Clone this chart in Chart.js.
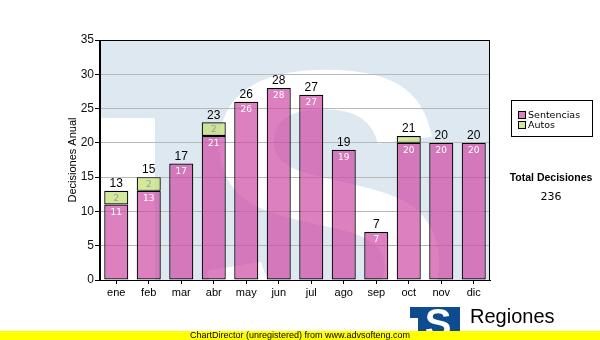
<!DOCTYPE html>
<html>
<head>
<meta charset="utf-8">
<script src="https://cdn.jsdelivr.net/npm/chart.js@4"></script>
<style>
  html, body { margin: 0; padding: 0; background: #fff; }
  canvas { display: block; }
</style>
</head>
<body>
<canvas id="decisiones" width="600" height="340"></canvas>
<script>
// datos mensuales
const meses = ['ene', 'feb', 'mar', 'abr', 'may', 'jun', 'jul', 'ago', 'sep', 'oct', 'nov', 'dic'];
const sentencias = [11, 13, 17, 21, 26, 28, 27, 19, 7, 20, 20, 20];
const autos = [2, 2, 0, 2, 0, 0, 0, 0, 0, 1, 0, 0];
const yMax = 35;
const yPaso = 5;

const colorSentencias = 'rgba(206, 74, 164, 0.7)';
const colorAutos = 'rgba(196, 224, 120, 0.75)';

const totales = meses.map((m, i) => sentencias[i] + autos[i]);
const totalDecisiones = totales.reduce((a, b) => a + b, 0);

// marca de agua del logo detras de las barras
const fondoLogo = {
  id: 'fondoLogo',
  beforeDraw(chart) {
    const ctx = chart.ctx;
    const { left, top, right, bottom } = chart.chartArea;
    ctx.save();
    ctx.beginPath();
    ctx.rect(left, top, right - left, bottom - top);
    ctx.clip();
    ctx.fillStyle = '#dee8f1';
    ctx.fillRect(left, top, right - left, bottom - top);
    ctx.fillStyle = '#fff';
    ctx.fillRect(left, top + 78, 55, bottom - top);
    ctx.font = 'bold 387px "Liberation Sans"';
    ctx.textAlign = 'center';
    ctx.textBaseline = 'alphabetic';
    ctx.fillText('S', 325, 340);
    ctx.restore();
  }
};

// valores dentro y encima de cada barra, borde del area
const etiquetas = {
  id: 'etiquetas',
  afterDatasetsDraw(chart) {
    const ctx = chart.ctx;
    const { left, top, right, bottom } = chart.chartArea;
    ctx.save();
    ctx.strokeStyle = '#000';
    ctx.lineWidth = 1;
    ctx.strokeRect(Math.round(left) - 0.5, Math.round(top) + 0.5, Math.round(right - left), Math.round(bottom - top));

    const m0 = chart.getDatasetMeta(0);
    const m1 = chart.getDatasetMeta(1);
    ctx.textAlign = 'center';
    m0.data.forEach((bar, i) => {
      ctx.font = '9px "DejaVu Sans"';
      ctx.textBaseline = 'middle';
      ctx.fillStyle = '#fff';
      ctx.fillText(String(sentencias[i]), bar.x, bar.y + 8);
      const a = m1.data[i];
      if (a.base - a.y >= 10) {
        ctx.fillStyle = '#9c9c9c';
        ctx.fillText(String(autos[i]), a.x, (a.y + a.base) / 2 + 1);
      }
      ctx.font = '12px "Liberation Sans"';
      ctx.textBaseline = 'bottom';
      ctx.fillStyle = '#000';
      ctx.fillText(String(totales[i]), a.x, Math.min(a.y, bar.y) - 1);
    });
    ctx.restore();
  },
  afterDraw(chart) {
    const ctx = chart.ctx;
    ctx.save();
    // leyenda
    ctx.strokeStyle = '#000';
    ctx.lineWidth = 1;
    ctx.strokeRect(511.5, 100.5, 81, 36);
    const items = [['Sentencias', colorSentencias], ['Autos', colorAutos]];
    ctx.font = '9.5px "DejaVu Sans"';
    ctx.textAlign = 'left';
    ctx.textBaseline = 'middle';
    items.forEach(([txt, col], k) => {
      const y = 111 + k * 10;
      ctx.fillStyle = '#fff';
      ctx.fillRect(518, y, 8, 8);
      ctx.fillStyle = col;
      ctx.fillRect(518, y, 8, 8);
      ctx.strokeRect(518.5, y + 0.5, 7, 7);
      ctx.fillStyle = '#000';
      ctx.fillText(txt, 528, y + 4.5);
    });

    // total anual
    ctx.textAlign = 'center';
    ctx.font = 'bold 10.5px "Liberation Sans"';
    ctx.fillText('Total Decisiones', 551, 178);
    ctx.font = '11px "DejaVu Sans"';
    ctx.fillText(String(totalDecisiones), 551, 197);

    // logo inferior
    ctx.fillStyle = '#0f4c8f';
    ctx.fillRect(410, 307, 50, 30);
    ctx.fillStyle = '#fff';
    ctx.fillRect(410, 318, 8, 20);
    ctx.save();
    ctx.beginPath();
    ctx.rect(410, 307, 50, 30);
    ctx.clip();
    ctx.textBaseline = 'alphabetic';
    ctx.font = 'bold 40px "Liberation Sans"';
    ctx.fillText('S', 438, 337);
    ctx.restore();

    ctx.fillStyle = '#000';
    ctx.textAlign = 'left';
    ctx.textBaseline = 'alphabetic';
    ctx.font = '20px "Liberation Sans"';
    ctx.fillText('Regiones', 470, 323);
    ctx.font = '11px "Liberation Sans"';
    ctx.fillText('Tribunal Supremo de Justicia', 467, 339);

    // franja inferior
    ctx.fillStyle = '#ffff00';
    ctx.fillRect(0, 331, 600, 9);
    ctx.fillStyle = '#000';
    ctx.font = '9px "Liberation Sans"';
    ctx.textBaseline = 'middle';
    ctx.fillText('ChartDirector (unregistered) from www.advsofteng.com', 190, 335.5);
    ctx.restore();
  }
};

const ctx = document.getElementById('decisiones').getContext('2d');
new Chart(ctx, {
  type: 'bar',
  data: {
    labels: meses,
    datasets: [
      {
        label: 'Sentencias',
        data: sentencias,
        backgroundColor: colorSentencias,
        borderColor: '#000',
        borderWidth: 1.2,
        borderSkipped: false,
        barPercentage: 0.74,
        categoryPercentage: 1
      },
      {
        label: 'Autos',
        data: autos,
        backgroundColor: colorAutos,
        borderColor: '#000',
        borderWidth: 1.2,
        borderSkipped: false,
        barPercentage: 0.74,
        categoryPercentage: 1
      }
    ]
  },
  options: {
    responsive: false,
    animation: false,
    layout: { padding: { left: 66, right: 110, top: 40, bottom: 0 } },
    plugins: {
      legend: { display: false },
      tooltip: { enabled: false }
    },
    scales: {
      x: {
        stacked: true,
        afterFit: s => { s.height = 60; },
        border: { display: true, color: '#000', width: 1 },
        grid: { drawOnChartArea: false, offset: false, tickLength: 4, tickColor: '#000' },
        ticks: { color: '#000', font: { family: 'Liberation Sans', size: 11 }, padding: 2 }
      },
      y: {
        stacked: true,
        min: 0,
        max: yMax,
        afterFit: s => { s.width = 34; },
        border: { display: true, color: '#000', width: 1 },
        grid: { color: '#b8b8b8', tickColor: '#000', tickLength: 5 },
        ticks: { stepSize: yPaso, color: '#111', font: { family: 'Liberation Sans', size: 12 }, padding: 1 },
        title: {
          display: true,
          text: 'Decisiones Anual',
          color: '#000',
          font: { family: 'Liberation Sans', size: 11 },
          padding: 0
        }
      }
    }
  },
  plugins: [fondoLogo, etiquetas]
});
</script>
</body>
</html>
